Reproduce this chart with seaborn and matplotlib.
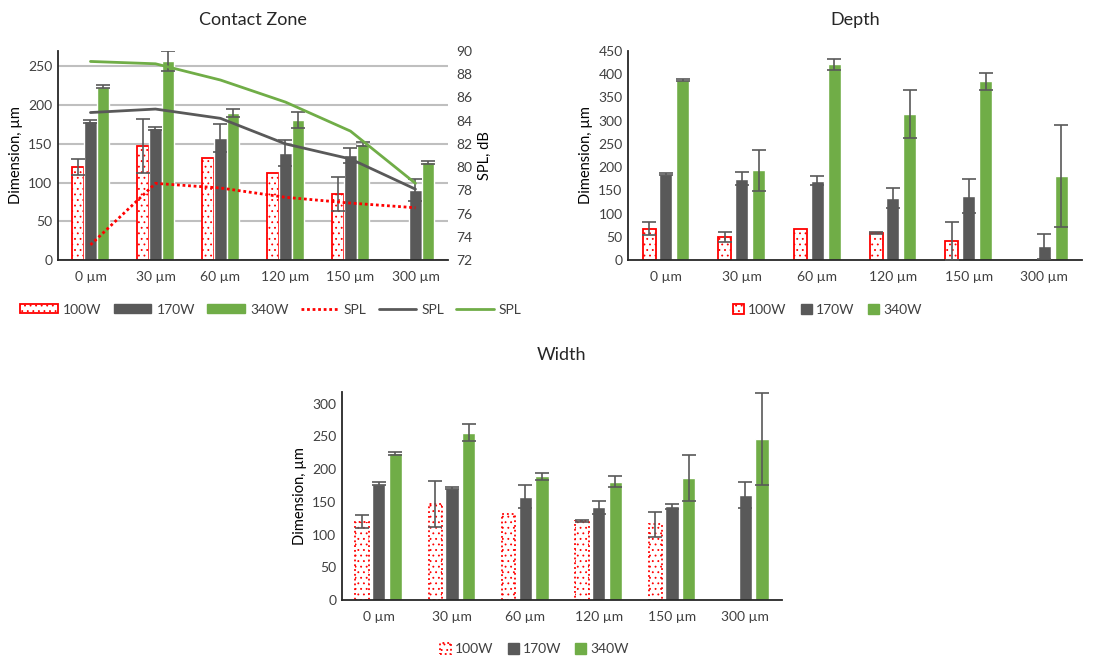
import numpy as np
import pandas as pd
import matplotlib
matplotlib.use('Agg')
import matplotlib.pyplot as plt
import seaborn as sns
from matplotlib.patches import Patch
from matplotlib.lines import Line2D

# --- data ---
positions = ['0 µm', '30 µm', '60 µm', '120 µm', '150 µm', '300 µm']
powers = ['100W', '170W', '340W']

# contact zone dimension, um (+ error)
contact_100 = [120, 147, 132, 112, 85, np.nan]
contact_170 = [179, 170, 158, 138, 135, 90]
contact_340 = [224, 257, 190, 181, 150, 126]
contact_100_err = [10, 35, 0, 0, 22, np.nan]
contact_170_err = [2, 2, 18, 17, 10, 14]
contact_340_err = [2, 13, 5, 10, 3, 2]

# sound pressure level, dB
spl_100 = [73.3, 78.6, 78.2, 77.4, 76.9, 76.5]
spl_170 = [84.7, 85.0, 84.2, 82.0, 80.7, 78.1]
spl_340 = [89.1, 88.9, 87.5, 85.6, 83.1, 78.6]

# depth, um
depth_100 = [67, 50, 67, 59, 41, np.nan]
depth_170 = [185, 175, 171, 134, 138, 30]
depth_340 = [388, 193, 421, 314, 385, 181]
depth_100_err = [14, 11, 0, 2, 41, np.nan]
depth_170_err = [2, 14, 10, 22, 37, 27]
depth_340_err = [2, 44, 12, 51, 18, 110]

# width, um
width_100 = [120, 147, 132, 121, 116, np.nan]
width_170 = [178, 171, 158, 142, 143, 160]
width_340 = [224, 256, 189, 181, 186, 246]
width_100_err = [10, 35, 0, 1, 19, np.nan]
width_170_err = [2, 1, 18, 10, 4, 20]
width_340_err = [2, 13, 5, 9, 35, 70]

RED = '#FF0000'
GREY = '#595959'
GREEN = '#70AD47'
TXT = '#404040'
DOTS = (0, (1, 1))

sns.set_theme(style='white')
plt.rcParams['font.family'] = ['Lato', 'DejaVu Sans']
plt.rcParams['hatch.linewidth'] = 0.6


def bar_panel(ax, vals, errs, width, gap, dotted_edge=False):
    df = pd.DataFrame({'position': positions * 3,
                       'power': np.repeat(powers, len(positions)),
                       'value': vals[0] + vals[1] + vals[2]})
    sns.barplot(ax=ax, data=df, x='position', y='value', hue='power',
                palette=[RED, GREY, GREEN], width=width, gap=gap,
                errorbar=None, saturation=1, legend=False, zorder=2)
    bar_conts = list(ax.containers)
    for i, cont in enumerate(bar_conts):
        for bar in cont:
            if i == 0:
                bar.set_facecolor('white')
                bar.set_edgecolor(RED)
                bar.set_hatch('...')
                bar.set_linewidth(1.3)
                if dotted_edge:
                    bar.set_linestyle(':')
            cx = bar.get_x() + bar.get_width() / 2
            h = bar.get_height()
            err = errs[i][int(round(cx))]
            if np.isnan(h) or np.isnan(err) or err <= 0:
                continue
            ax.errorbar(cx, h, yerr=err, color=GREY, capsize=5,
                        elinewidth=1.2, capthick=1.2, zorder=3)
    ax.set(xlabel='', ylabel='Dimension, µm')
    ax.yaxis.label.set_color('black')
    ax.yaxis.label.set_fontsize(10.5)
    ax.tick_params(axis='both', length=0, labelsize=10, labelcolor=TXT, pad=8)
    ax.tick_params(axis='y', pad=4)
    for s in ['top', 'right']:
        ax.spines[s].set_visible(False)
    for s in ['left', 'bottom']:
        ax.spines[s].set_color('#262626')
        ax.spines[s].set_linewidth(1.3)
    ax.set_xlim(-0.5, 5.5)


fig = plt.figure(figsize=(11.02, 6.59), dpi=100)

# Contact zone with SPL on a second axis
ax1 = fig.add_axes([0.0526, 0.6055, 0.3539, 0.3171])
bar_panel(ax1, [contact_100, contact_170, contact_340],
          [contact_100_err, contact_170_err, contact_340_err], width=0.58, gap=0)
ax1.set_ylim(0, 270)
ax1.set_yticks(range(0, 251, 50))
ax1.yaxis.grid(True, color='#BFBFBF', linewidth=1.5, zorder=0)
ax1.set_axisbelow(True)
ax1.set_title('Contact Zone', fontsize=13, pad=19)

ax1b = ax1.twinx()
for spl, col, ls in [(spl_100, RED, DOTS), (spl_170, GREY, '-'), (spl_340, GREEN, '-')]:
    sns.lineplot(ax=ax1b, x=positions, y=spl, color=col, linewidth=2, linestyle=ls,
                 sort=False)
ax1b.set_ylim(72, 90)
ax1b.set_yticks(range(72, 91, 2))
ax1b.set_ylabel('SPL, dB', fontsize=10.5, color='black')
ax1b.tick_params(axis='y', length=0, labelsize=10, labelcolor=TXT, pad=6)
ax1b.grid(False)
for s in ['top', 'right', 'left', 'bottom']:
    ax1b.spines[s].set_visible(False)

h100 = Patch(facecolor='white', edgecolor=RED, hatch='...', linewidth=1.3)
leg1 = [h100, Patch(color=GREY), Patch(color=GREEN),
        Line2D([], [], color=RED, linewidth=2, linestyle=DOTS),
        Line2D([], [], color=GREY, linewidth=2),
        Line2D([], [], color=GREEN, linewidth=2)]
fig.legend(leg1, powers + ['SPL', 'SPL', 'SPL'], loc='center', bbox_to_anchor=(0.246, 0.530),
           ncol=6, frameon=False, fontsize=10, handlelength=2.7, handleheight=0.6,
           handletextpad=0.36, columnspacing=0.9, labelcolor=TXT)

# Depth
ax2 = fig.add_axes([0.570, 0.6055, 0.412, 0.3171])
bar_panel(ax2, [depth_100, depth_170, depth_340],
          [depth_100_err, depth_170_err, depth_340_err], width=0.67, gap=0.23)
ax2.set_ylim(0, 450)
ax2.set_yticks(range(0, 451, 50))
ax2.set_title('Depth', fontsize=13, pad=19)
leg2 = [Patch(facecolor='white', edgecolor=RED, hatch='...', linewidth=1.3),
        Patch(color=GREY), Patch(color=GREEN)]
fig.legend(leg2, powers, loc='center', bbox_to_anchor=(0.751, 0.530), ncol=3, frameon=False,
           fontsize=10, handlelength=0.8, handleheight=0.8, handletextpad=0.3,
           columnspacing=1.0, labelcolor=TXT)

# Width
ax3 = fig.add_axes([0.3103, 0.0895, 0.3993, 0.3157])
bar_panel(ax3, [width_100, width_170, width_340],
          [width_100_err, width_170_err, width_340_err], width=0.68, gap=0.2, dotted_edge=True)
ax3.set_ylim(0, 318)
ax3.set_yticks(range(0, 301, 50))
ax3.set_title('Width', fontsize=13, pad=23)
leg3 = [Patch(facecolor='white', edgecolor=RED, hatch='...', linewidth=1.3, linestyle=':'),
        Patch(color=GREY), Patch(color=GREEN)]
fig.legend(leg3, powers, loc='center', bbox_to_anchor=(0.485, 0.015), ncol=3, frameon=False,
           fontsize=10, handlelength=0.8, handleheight=0.8, handletextpad=0.3,
           columnspacing=1.0, labelcolor=TXT)

fig.savefig('out.png', dpi=100)
